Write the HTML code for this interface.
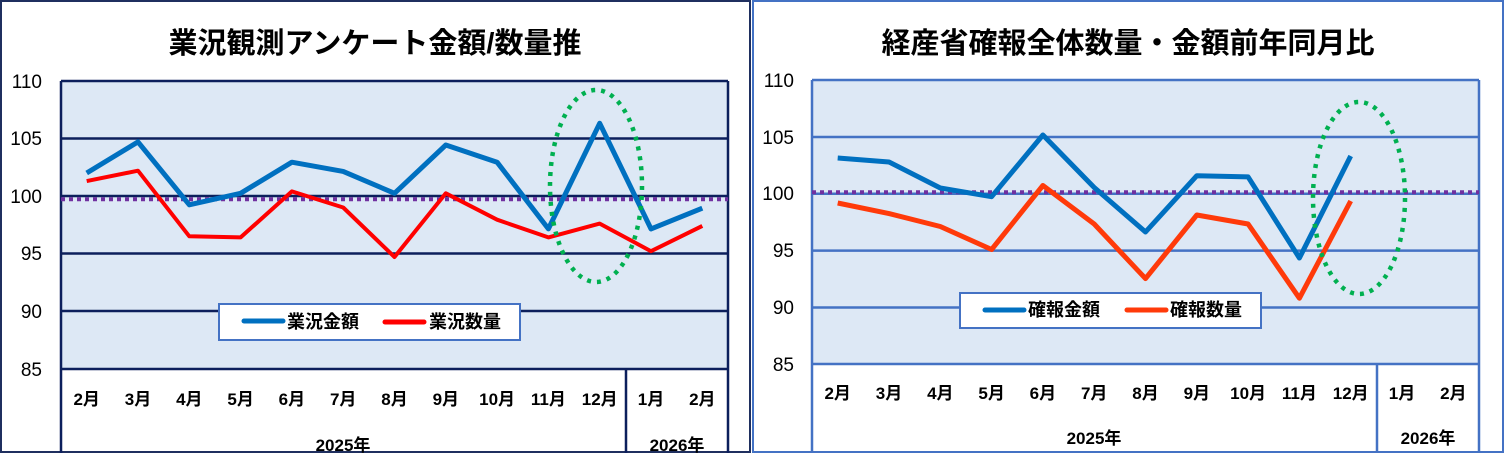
<!DOCTYPE html>
<html><head><meta charset="utf-8"><style>
body{margin:0;background:#fff;}
svg{display:block;font-family:"Liberation Sans","Noto Sans CJK JP",sans-serif;}
</style></head><body>
<svg width="1504" height="453" viewBox="0 0 1504 453" xmlns="http://www.w3.org/2000/svg">
<rect x="0" y="0" width="1504" height="453" fill="#fff"/>
<!-- LEFT CHART -->
<rect x="1" y="1" width="749" height="451" fill="#fff" stroke="#1f2f5f" stroke-width="2"/>
<text x="375" y="53" text-anchor="middle" font-size="29" font-weight="bold" fill="#000">業況観測アンケート金額/数量推</text>
<rect x="61" y="81" width="667" height="288" fill="#dde8f5"/>
<g stroke="#0c1f5c" stroke-width="2.5">
<line x1="61" y1="81" x2="728" y2="81"/><line x1="61" y1="138.5" x2="728" y2="138.5"/>
<line x1="61" y1="196" x2="728" y2="196"/><line x1="61" y1="253.5" x2="728" y2="253.5"/>
<line x1="61" y1="311" x2="728" y2="311"/><line x1="61" y1="369" x2="728" y2="369"/>
<line x1="61" y1="81" x2="61" y2="453"/><line x1="728" y1="81" x2="728" y2="453"/>
<line x1="626" y1="369" x2="626" y2="453"/>
</g>
<g font-size="19" fill="#000" text-anchor="end">
<text x="42" y="88">110</text><text x="42" y="145">105</text><text x="42" y="203">100</text>
<text x="42" y="260">95</text><text x="42" y="318">90</text><text x="42" y="376">85</text>
</g>
<line x1="61" y1="199.3" x2="728" y2="199.3" stroke="#7030a0" stroke-width="4" stroke-dasharray="4,4"/>
<polyline fill="none" stroke="#0070c0" stroke-width="5" stroke-linejoin="round" points="86.7,173 138,141.9 189.3,204.8 240.6,193.3 291.9,162.2 343.2,171.4 394.5,193.3 445.8,145 497.1,162.2 548.4,228.9 599.7,123.3 651,228.9 702.3,208.2"/>
<polyline fill="none" stroke="#ff0000" stroke-width="4" stroke-linejoin="round" points="86.7,181.1 138,170.7 189.3,236.3 240.6,237.4 291.9,191.4 343.2,207.5 394.5,257 445.8,193.3 497.1,219.7 548.4,237.4 599.7,223.6 651,251.2 702.3,225.9"/>
<ellipse cx="596" cy="186" rx="46" ry="96" fill="none" stroke="#00b050" stroke-width="4.5" stroke-dasharray="4,6"/>
<rect x="219" y="304" width="301" height="36" fill="#fff" stroke="#4472c4" stroke-width="2"/>
<line x1="244" y1="321" x2="283" y2="321" stroke="#0070c0" stroke-width="5" stroke-linecap="round"/>
<text x="287" y="328" font-size="18" font-weight="bold">業況金額</text>
<line x1="385" y1="322" x2="424" y2="322" stroke="#ff0000" stroke-width="5" stroke-linecap="round"/>
<text x="429" y="328" font-size="18" font-weight="bold">業況数量</text>
<g font-size="17" font-weight="bold" text-anchor="middle">
<text x="86.7" y="405">2月</text><text x="138" y="405">3月</text><text x="189.3" y="405">4月</text>
<text x="240.6" y="405">5月</text><text x="291.9" y="405">6月</text><text x="343.2" y="405">7月</text>
<text x="394.5" y="405">8月</text><text x="445.8" y="405">9月</text><text x="497.1" y="405">10月</text>
<text x="548.4" y="405">11月</text><text x="599.7" y="405">12月</text><text x="651" y="405">1月</text>
<text x="702.3" y="405">2月</text>
<text x="343" y="451">2025年</text><text x="677" y="451">2026年</text>
</g>
<!-- RIGHT CHART -->
<rect x="753" y="1" width="750" height="451" fill="#fff" stroke="#4472c4" stroke-width="2"/>
<text x="1128" y="53" text-anchor="middle" font-size="29" font-weight="bold" fill="#000">経産省確報全体数量・金額前年同月比</text>
<rect x="812" y="80" width="667" height="284" fill="#dde8f5"/>
<g stroke="#4472c4" stroke-width="2.5">
<line x1="812" y1="80" x2="1479" y2="80"/><line x1="812" y1="137" x2="1479" y2="137"/>
<line x1="812" y1="193.7" x2="1479" y2="193.7"/><line x1="812" y1="250.6" x2="1479" y2="250.6"/>
<line x1="812" y1="307.5" x2="1479" y2="307.5"/><line x1="812" y1="364" x2="1479" y2="364"/>
<line x1="812" y1="80" x2="812" y2="453"/><line x1="1479" y1="80" x2="1479" y2="453"/>
<line x1="1377" y1="364" x2="1377" y2="453"/>
</g>
<g font-size="19" fill="#000" text-anchor="end">
<text x="794" y="87">110</text><text x="794" y="144">105</text><text x="794" y="200">100</text>
<text x="794" y="257">95</text><text x="794" y="314">90</text><text x="794" y="371">85</text>
</g>
<line x1="812" y1="192.3" x2="1479" y2="192.3" stroke="#7030a0" stroke-width="4" stroke-dasharray="4,4"/>
<polyline fill="none" stroke="#0070c0" stroke-width="5" stroke-linejoin="round" points="837.7,158 889,162 940.3,188 991.6,196.7 1042.9,135 1094.2,187.5 1145.5,232 1196.8,175.7 1248.1,176.9 1299.4,258 1350.7,156"/>
<polyline fill="none" stroke="#ff3a0a" stroke-width="5" stroke-linejoin="round" points="837.7,203 889,213.6 940.3,226.5 991.6,249.5 1042.9,185.5 1094.2,224 1145.5,278.6 1196.8,215 1248.1,224 1299.4,298.2 1350.7,201"/>
<ellipse cx="1359" cy="198" rx="46" ry="96" fill="none" stroke="#00b050" stroke-width="4.5" stroke-dasharray="4,6"/>
<rect x="960" y="293" width="301" height="35" fill="#fff" stroke="#4472c4" stroke-width="2"/>
<line x1="985" y1="310" x2="1024" y2="310" stroke="#0070c0" stroke-width="5" stroke-linecap="round"/>
<text x="1028" y="316" font-size="18" font-weight="bold">確報金額</text>
<line x1="1127" y1="310" x2="1166" y2="310" stroke="#ff3a0a" stroke-width="5" stroke-linecap="round"/>
<text x="1170" y="316" font-size="18" font-weight="bold">確報数量</text>
<g font-size="17" font-weight="bold" text-anchor="middle">
<text x="837.7" y="399">2月</text><text x="889" y="399">3月</text><text x="940.3" y="399">4月</text>
<text x="991.6" y="399">5月</text><text x="1042.9" y="399">6月</text><text x="1094.2" y="399">7月</text>
<text x="1145.5" y="399">8月</text><text x="1196.8" y="399">9月</text><text x="1248.1" y="399">10月</text>
<text x="1299.4" y="399">11月</text><text x="1350.7" y="399">12月</text><text x="1402" y="399">1月</text>
<text x="1453.3" y="399">2月</text>
<text x="1094" y="444">2025年</text><text x="1428" y="444">2026年</text>
</g>
</svg>
</body></html>
